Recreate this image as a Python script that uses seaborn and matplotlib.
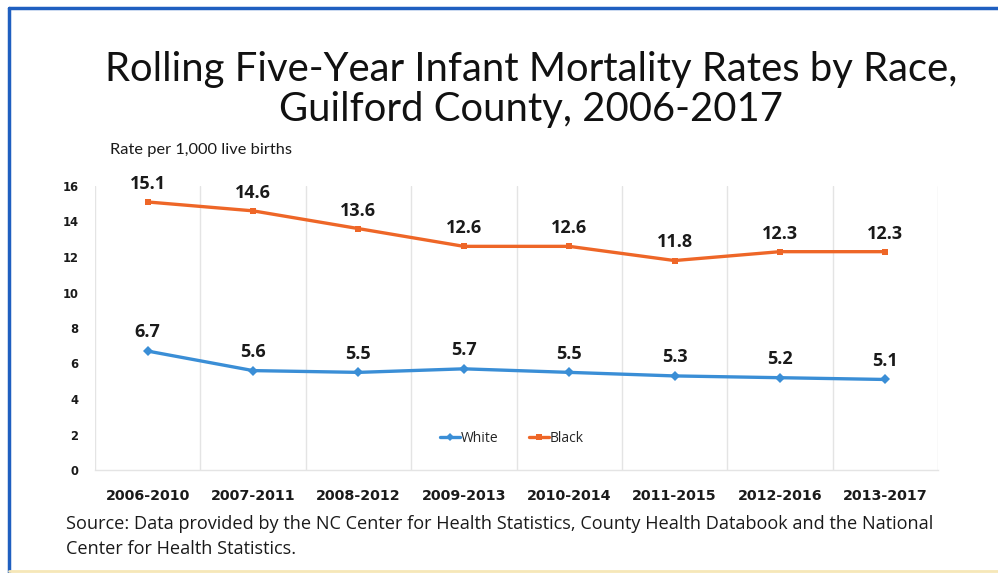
import matplotlib
matplotlib.use("Agg")
import matplotlib.pyplot as plt
from matplotlib.lines import Line2D
import seaborn as sns
import pandas as pd

periods = ["2006-2010", "2007-2011", "2008-2012", "2009-2013",
           "2010-2014", "2011-2015", "2012-2016", "2013-2017"]
white_rates = [6.7, 5.6, 5.5, 5.7, 5.5, 5.3, 5.2, 5.1]
black_rates = [15.1, 14.6, 13.6, 12.6, 12.6, 11.8, 12.3, 12.3]
y_ticks = [0, 2, 4, 6, 8, 10, 12, 14, 16]

blue = "#3A8ED6"
orange = "#EE6627"
grid_grey = "#E4E4E4"

df = pd.DataFrame({
    "period": periods * 2,
    "rate": white_rates + black_rates,
    "race": ["White"] * len(periods) + ["Black"] * len(periods),
})

sns.set_theme(style="white")
plt.rcParams["font.family"] = ["Lato", "DejaVu Sans"]

W, H = 998, 573
fig = plt.figure(figsize=(W / 100, H / 100), dpi=100)
fig.patch.set_facecolor("white")

ax = fig.add_axes([95 / W, (H - 470) / H, (938 - 95) / W, (470 - 186) / H])
sns.lineplot(data=df, x="period", y="rate", hue="race", style="race",
             palette={"White": blue, "Black": orange},
             markers={"White": "D", "Black": "s"}, dashes=False,
             markersize=5, linewidth=2.4, markeredgewidth=0,
             sort=False, legend=False, ax=ax)

ax.set_xlim(-0.5, len(periods) - 0.5)
ax.set_ylim(0, 16)
ax.set_yticks(y_ticks)
ax.set_xlabel("")
ax.set_ylabel("")

# vertical gridlines between categories
ax.set_xticks([i - 0.5 for i in range(len(periods) + 1)], minor=True)
ax.grid(True, axis="x", which="minor", color=grid_grey, linewidth=1)
ax.grid(False, axis="x", which="major")
ax.grid(False, axis="y")
for s in ["top", "right", "left"]:
    ax.spines[s].set_visible(False)
ax.spines["bottom"].set_color(grid_grey)
ax.spines["bottom"].set_linewidth(1)
ax.tick_params(which="both", length=0)
ax.tick_params(axis="y", pad=12)
ax.tick_params(axis="x", pad=14)
for lbl in ax.get_yticklabels():
    lbl.set_fontfamily("DejaVu Sans")
    lbl.set_fontweight("bold")
    lbl.set_fontsize(8.3)
    lbl.set_color("#1a1a1a")
for lbl in ax.get_xticklabels():
    lbl.set_fontfamily("DejaVu Sans")
    lbl.set_fontweight("bold")
    lbl.set_fontsize(10.3)
    lbl.set_color("#1a1a1a")

# value labels
for i, v in enumerate(black_rates):
    ax.annotate(f"{v:.1f}", (i, v), xytext=(0, 13), textcoords="offset points",
                ha="center", va="center", fontsize=13, fontweight="bold",
                family="Open Sans", color="#1a1a1a")
for i, v in enumerate(white_rates):
    ax.annotate(f"{v:.1f}", (i, v), xytext=(0, 13.5), textcoords="offset points",
                ha="center", va="center", fontsize=13, fontweight="bold",
                family="Open Sans", color="#1a1a1a")

handles = [Line2D([], [], color=blue, marker="D", markersize=4, linewidth=2.4, markeredgewidth=0),
           Line2D([], [], color=orange, marker="s", markersize=5, linewidth=2.4, markeredgewidth=0)]
leg = ax.legend(handles, ["White", "Black"], loc="center",
                bbox_to_anchor=((512 - 95) / (938 - 95), (470 - 438) / (470 - 186)),
                ncol=2, frameon=False, handlelength=1.4, handletextpad=0.1,
                columnspacing=2.2, prop={"family": "Open Sans", "size": 10})

fig.text(531 / W, 1 - 70 / H, "Rolling Five-Year Infant Mortality Rates by Race,",
         ha="center", va="center", fontsize=28.8, color="#111111")
fig.text(531 / W, 1 - 110 / H, "Guilford County, 2006-2017",
         ha="center", va="center", fontsize=28.8, color="#111111")
fig.text(110 / W, 1 - 150 / H, "Rate per 1,000 live births",
         ha="left", va="center", fontsize=11.8, color="#1a1a1a")
fig.text(66 / W, 1 - 524 / H,
         "Source: Data provided by the NC Center for Health Statistics, County Health Databook and the National",
         ha="left", va="center", fontsize=13.05, family="Open Sans", color="#1a1a1a")
fig.text(66 / W, 1 - 549 / H, "Center for Health Statistics.",
         ha="left", va="center", fontsize=13.05, family="Open Sans", color="#1a1a1a")

# page frame
fig.add_artist(Line2D([9 / W, 1], [1 - 8 / H, 1 - 8 / H], color="#1F5FC0", linewidth=2.5))
fig.add_artist(Line2D([9 / W, 9 / W], [0, 1 - 8 / H], color="#1F5FC0", linewidth=2.5))
fig.add_artist(Line2D([9 / W, 1], [2 / H, 2 / H], color="#F6E7B8", linewidth=2))

fig.savefig("out.png", dpi=100, facecolor="white")
